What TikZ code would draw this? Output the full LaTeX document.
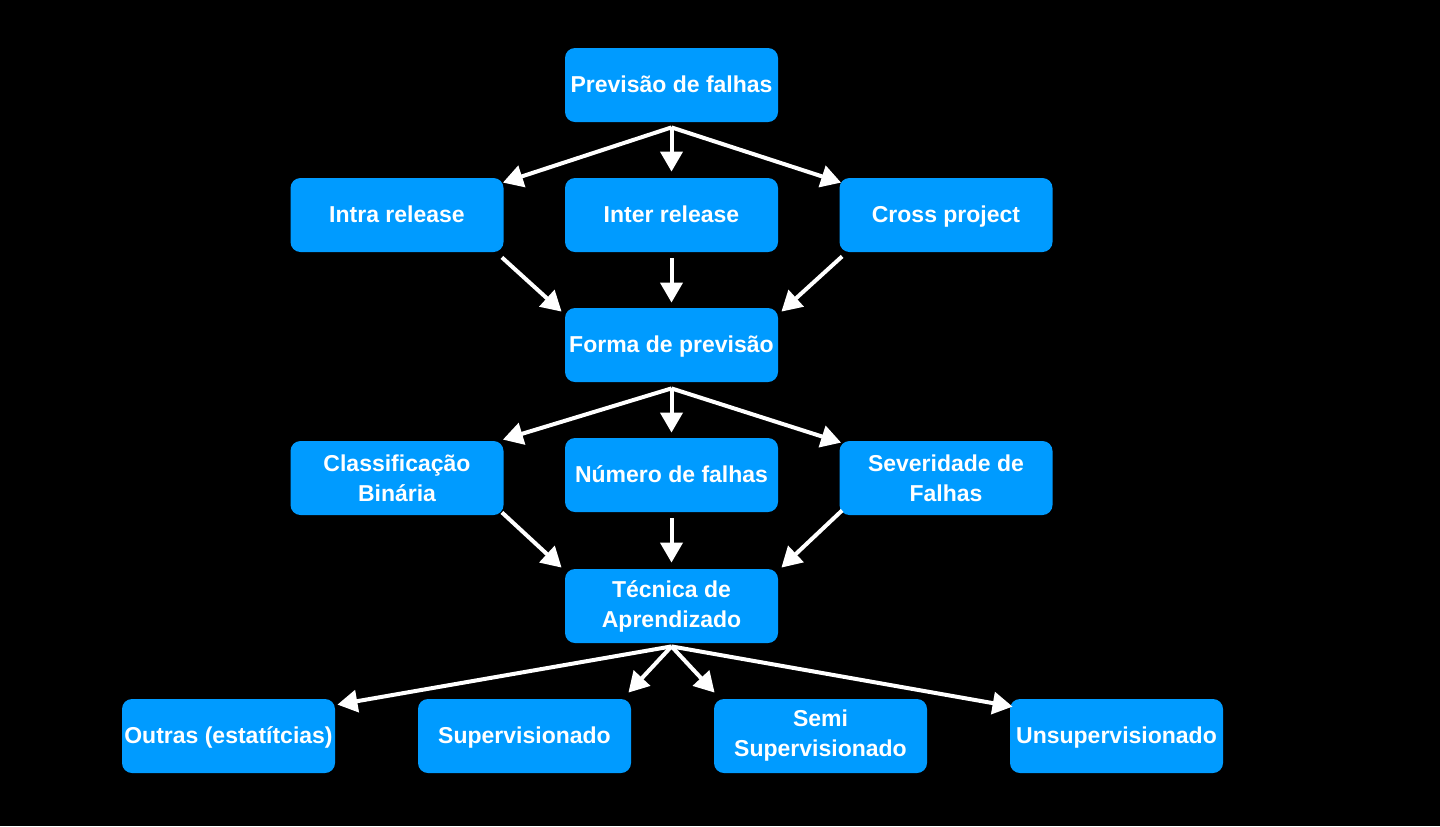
\documentclass[tikz,border=0pt]{standalone}
\usepackage{fontspec}
\setmainfont{Liberation Sans}
\usetikzlibrary{arrows.meta}
\definecolor{azul}{RGB}{0,155,255}

\begin{document}
\begin{tikzpicture}[x=0.5pt,y=-0.5pt]
\tikzstyle{caixa}=[rectangle, rounded corners=5pt, fill=azul, text=white, font=\fontsize{11.5}{15}\selectfont\bfseries, minimum width=106.5pt, minimum height=37pt, inner sep=1pt, align=center]
\tikzstyle{linha}=[text height=0.75em, text depth=0pt]
\tikzstyle{seta}=[draw=white, line width=2pt, line join=round, -{Triangle[length=10pt,width=11pt]}]
\fill[black] (0,0) rectangle (1440,826);
\node[caixa,linha] (falhas) at (671.5,85) {Previsão de falhas};
\node[caixa,linha] (intra) at (397,215) {Intra release};
\node[caixa,linha] (inter) at (671.5,215) {Inter release};
\node[caixa,linha] (cross) at (946,215) {Cross project};
\node[caixa,linha] (forma) at (671.5,345) {Forma de previsão};
\node[caixa] (binaria) at (397,478) {Classificação\\Binária};
\node[caixa,linha] (numero) at (671.5,475) {Número de falhas};
\node[caixa] (severidade) at (946,478) {Severidade de\\Falhas};
\node[caixa] (tecnica) at (671.5,606) {Técnica de\\Aprendizado};
\node[caixa,linha] (outras) at (228.5,736) {Outras (estatítcias)};
\node[caixa,linha] (super) at (524.5,736) {Supervisionado};
\node[caixa] (semi) at (820.5,736) {Semi\\Supervisionado};
\node[caixa,linha] (unsuper) at (1116.5,736) {Unsupervisionado};
% primeiro nivel
\draw[seta] ([shift={(0,5)}]falhas.south) -- ([shift={(-1,5)}]intra.north east);
\draw[seta] ([shift={(0,5)}]falhas.south) -- ([shift={(0,-6)}]inter.north);
\draw[seta] ([shift={(0,5)}]falhas.south) -- ([shift={(2,5)}]cross.north west);
\draw[seta] ([shift={(-2,5)}]intra.south east) -- ([shift={(-3,4)}]forma.north west);
\draw[seta] ([shift={(0,6)}]inter.south) -- ([shift={(0,-5)}]forma.north);
\draw[seta] ([shift={(3,4)}]cross.south west) -- ([shift={(3,4)}]forma.north east);
% segundo nivel
\draw[seta] ([shift={(0,6)}]forma.south) -- ([shift={(-1,-1)}]binaria.north east);
\draw[seta] ([shift={(0,6)}]forma.south) -- ([shift={(0,-5)}]numero.north);
\draw[seta] ([shift={(0,6)}]forma.south) -- ([shift={(2,2)}]severidade.north west);
\draw[seta] ([shift={(-2,-3)}]binaria.south east) -- ([shift={(-3,-1)}]tecnica.north west);
\draw[seta] ([shift={(0,6)}]numero.south) -- ([shift={(0,-6)}]tecnica.north);
\draw[seta] ([shift={(3,-5)}]severidade.south west) -- ([shift={(3,-1)}]tecnica.north east);
% tecnicas
\draw[seta] ([shift={(0,3)}]tecnica.south) -- ([shift={(2,6)}]outras.north east);
\draw[seta] ([shift={(0,3)}]tecnica.south) -- ([shift={(-3,-6)}]super.north east);
\draw[seta] ([shift={(0,3)}]tecnica.south) -- ([shift={(1,-6)}]semi.north west);
\draw[seta] ([shift={(0,3)}]tecnica.south) -- ([shift={(3,8)}]unsuper.north west);
\end{tikzpicture}
\end{document}
